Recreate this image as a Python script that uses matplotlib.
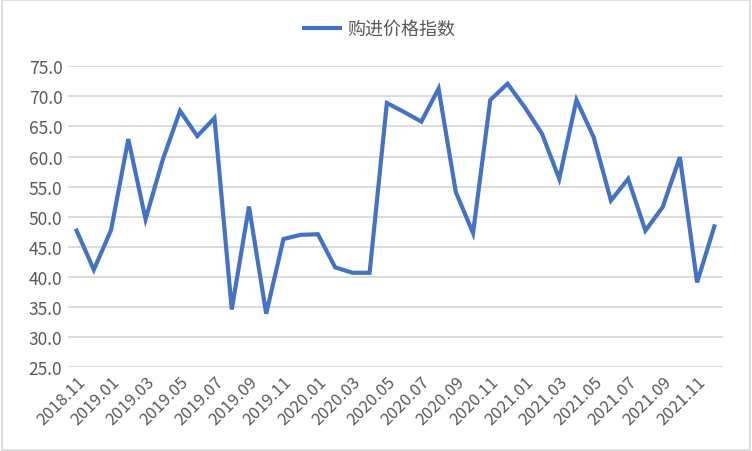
import matplotlib
matplotlib.use("Agg")
import matplotlib.pyplot as plt
from matplotlib.patches import Rectangle

plt.rcParams['font.family'] = ['Noto Sans CJK SC', 'DejaVu Sans']

# monthly data, 2018.11 - 2021.12
months = ["2018.11", "2018.12",
          "2019.01", "2019.02", "2019.03", "2019.04", "2019.05", "2019.06",
          "2019.07", "2019.08", "2019.09", "2019.10", "2019.11", "2019.12",
          "2020.01", "2020.02", "2020.03", "2020.04", "2020.05", "2020.06",
          "2020.07", "2020.08", "2020.09", "2020.10", "2020.11", "2020.12",
          "2021.01", "2021.02", "2021.03", "2021.04", "2021.05", "2021.06",
          "2021.07", "2021.08", "2021.09", "2021.10", "2021.11", "2021.12"]
price_index = [47.7, 41.2,
               47.8, 62.9, 49.6, 59.5, 67.6, 63.4,
               66.4, 34.6, 51.7, 33.9, 46.3, 47.0,
               47.1, 41.6, 40.7, 40.7, 68.9, 67.4,
               65.8, 71.3, 54.1, 47.3, 69.4, 72.1,
               68.2, 63.8, 56.3, 69.4, 63.2, 52.7,
               56.3, 47.7, 51.6, 59.9, 39.1, 48.4]
series_name = "购进价格指数"
yticks = [25, 30, 35, 40, 45, 50, 55, 60, 65, 70, 75]

fig = plt.figure(figsize=(7.52, 4.52), dpi=100)
ax = fig.add_axes([0.0904, 0.1852, 0.871, 0.666])

x = list(range(len(months)))
ax.plot(x, price_index, color='#4472C4', linewidth=3.0, label=series_name,
        solid_joinstyle='miter')

ax.set_xlim(-0.5, len(months) - 0.5)
ax.set_ylim(25, 75)
ax.set_yticks(yticks)
ax.set_yticklabels(["%.1f" % v for v in yticks])
ax.set_xticks(x[::2])
ax.set_xticklabels(months[::2], rotation=45, ha='right', rotation_mode='anchor')

ax.grid(axis='y', color='#d9d9d9', linewidth=1.3)
ax.set_axisbelow(True)
for s in ax.spines.values():
    s.set_visible(False)
ax.tick_params(length=0, colors='#595959')
ax.tick_params(axis='y', labelsize=12.5, pad=4)
ax.tick_params(axis='x', labelsize=12, pad=4)
for lab in ax.get_xticklabels() + ax.get_yticklabels():
    lab.set_fontweight('light')

leg = fig.legend(loc='center', bbox_to_anchor=(0.505, 0.934), frameon=False,
                 fontsize=13, labelcolor='#595959', handlelength=2.0,
                 handletextpad=0.4)
for t in leg.get_texts():
    t.set_fontweight('light')

fig.patches.append(Rectangle((0.002, 0.003), 0.996, 0.994, transform=fig.transFigure,
                             fill=False, edgecolor='#d9d9d9', linewidth=1.2))

fig.savefig("out.png", dpi=100)
